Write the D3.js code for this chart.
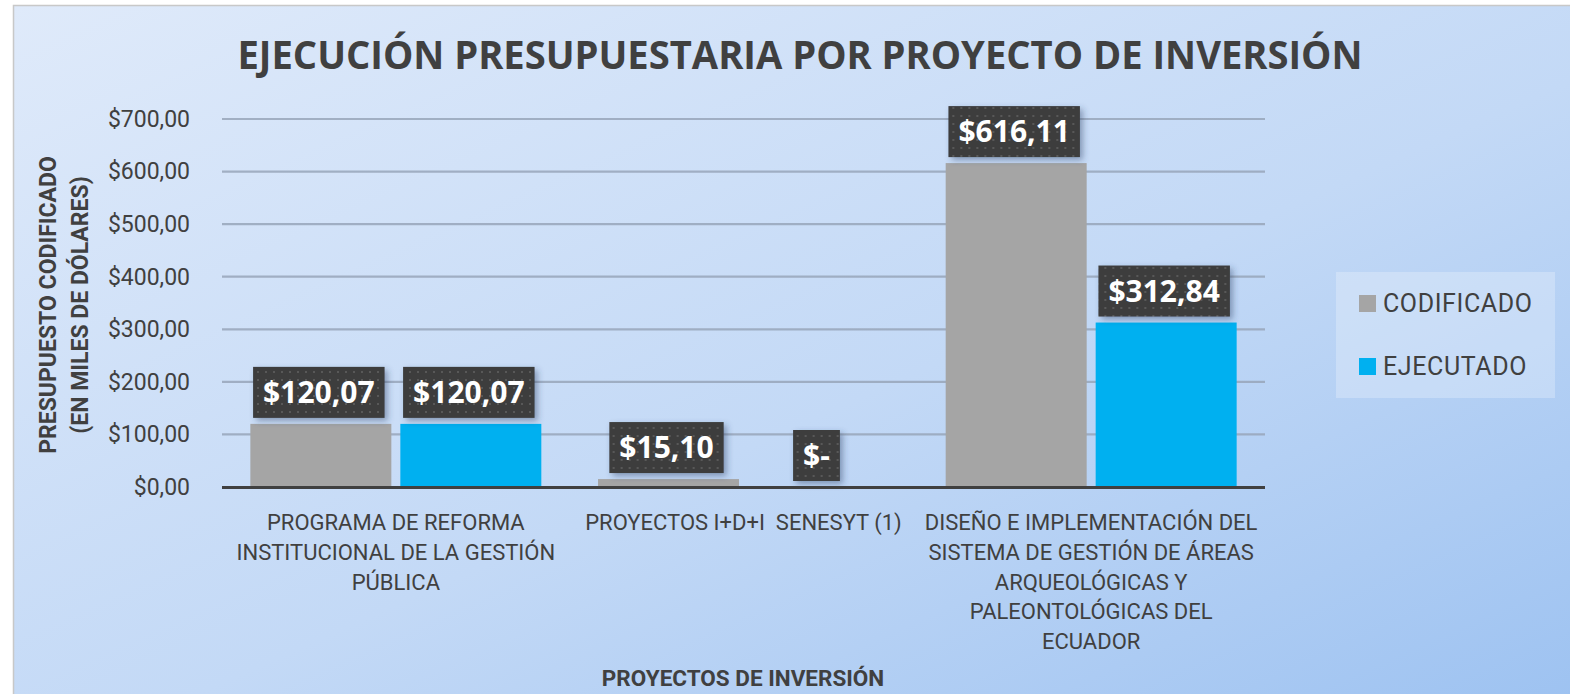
<!DOCTYPE html>
<html>
<head>
<meta charset="utf-8">
<script src="https://cdn.jsdelivr.net/npm/d3@7"></script>
<style>
  body { margin: 0; background: #fff; }
  svg { display: block; }
  text { font-family: "Roboto", sans-serif; fill: #404040; }
</style>
</head>
<body>
<svg id="chart" width="1570" height="694"></svg>
<script>
// Chart values
var categories = ['G1', 'G2', 'G3'];
var category_lines = [
    ['PROGRAMA DE REFORMA', 'INSTITUCIONAL DE LA GESTIÓN', 'PÚBLICA'],
    ['PROYECTOS I+D+I  SENESYT (1)'],
    ['DISEÑO E IMPLEMENTACIÓN DEL', 'SISTEMA DE GESTIÓN DE ÁREAS', 'ARQUEOLÓGICAS Y', 'PALEONTOLÓGICAS DEL', 'ECUADOR']
];
var series_names = ['CODIFICADO', 'EJECUTADO'];
var codificado = [120.07, 15.10, 616.11];
var ejecutado = [120.07, 0, 312.84];
var value_labels = [['$120,07', '$120,07'], ['$15,10', '$-'], ['$616,11', '$312,84']];
var y_ticks = [0, 100, 200, 300, 400, 500, 600, 700];

var colors = { CODIFICADO: '#a5a5a5', EJECUTADO: '#00b0f0' };

var svg = d3.select('#chart');
var defs = svg.append('defs');

// Background gradient
var grad = defs.append('linearGradient').attr('id', 'bg')
    .attr('x1', '0%').attr('y1', '0%').attr('x2', '100%').attr('y2', '100%');
grad.append('stop').attr('offset', '0%').attr('stop-color', '#dfeafa');
grad.append('stop').attr('offset', '55%').attr('stop-color', '#c3d9f6');
grad.append('stop').attr('offset', '100%').attr('stop-color', '#9dc2f1');

// Dotted pattern for the data label boxes
var pat = defs.append('pattern').attr('id', 'dots')
    .attr('width', 8).attr('height', 8).attr('patternUnits', 'userSpaceOnUse');
pat.append('rect').attr('width', 8).attr('height', 8).attr('fill', '#3c3c3c');
pat.append('rect').attr('x', 3).attr('y', 3).attr('width', 2).attr('height', 2).attr('fill', '#595959');

var shadow = defs.append('filter').attr('id', 'shadow')
    .attr('x', '-20%').attr('y', '-20%').attr('width', '150%').attr('height', '160%');
shadow.append('feDropShadow').attr('dx', 3).attr('dy', 3).attr('stdDeviation', 3)
    .attr('flood-color', '#2a3f66').attr('flood-opacity', 0.45);

svg.append('rect').attr('x', 13.5).attr('y', 5.5).attr('width', 1570).attr('height', 700)
    .attr('fill', 'url(#bg)').attr('stroke', '#c8c8c8').attr('stroke-width', 1.5);

// Title
svg.append('text').attr('x', 800).attr('y', 69).attr('text-anchor', 'middle')
    .style('font-family', '"Open Sans", sans-serif')
    .style('font-weight', 'bold').style('font-size', '40px')
    .attr('textLength', 1125).attr('lengthAdjust', 'spacingAndGlyphs')
    .text('EJECUCIÓN PRESUPUESTARIA POR PROYECTO DE INVERSIÓN');

var margin = { left: 222, right: 1265, top: 119, bottom: 487 };
var x = d3.scaleBand().domain(categories).range([margin.left, margin.right]).paddingInner(0).paddingOuter(0);
var x1 = d3.scaleBand().domain(series_names).range([0, x.bandwidth()]).paddingInner(0.06).paddingOuter(0.189);
var y = d3.scaleLinear().domain([0, 700]).range([margin.bottom, margin.top]);

// Gridlines
svg.append('g').selectAll('line').data(y_ticks.slice(1)).enter().append('line')
    .attr('x1', margin.left).attr('x2', margin.right)
    .attr('y1', function (d) { return y(d); }).attr('y2', function (d) { return y(d); })
    .attr('stroke', '#98a6ba').attr('stroke-width', 2.2).attr('opacity', 0.85);

// Y axis tick labels
var yAxis = d3.axisLeft(y).tickValues(y_ticks).tickSize(0).tickPadding(32)
    .tickFormat(function (d) { return '$' + d3.format('.2f')(d).replace('.', ','); });
var yg = svg.append('g').attr('transform', 'translate(' + margin.left + ',0)').call(yAxis);
yg.select('.domain').remove();
yg.selectAll('text').style('font-size', '23px').style('font-family', 'Roboto, sans-serif').attr('fill', '#404040');

// Bars
var rows = categories.map(function (c, i) {
    return { cat: c, vals: [
        { s: 'CODIFICADO', v: codificado[i], label: value_labels[i][0] },
        { s: 'EJECUTADO', v: ejecutado[i], label: value_labels[i][1] }
    ] };
});
var groups = svg.append('g').selectAll('g').data(rows).enter().append('g')
    .attr('transform', function (d) { return 'translate(' + x(d.cat) + ',0)'; });
groups.selectAll('rect').data(function (d) { return d.vals; }).enter().append('rect')
    .attr('x', function (d) { return x1(d.s); })
    .attr('width', x1.bandwidth())
    .attr('y', function (d) { return y(d.v); })
    .attr('height', function (d) { return y(0) - y(d.v); })
    .attr('fill', function (d) { return colors[d.s]; });

// X axis line
svg.append('line').attr('x1', margin.left).attr('x2', margin.right)
    .attr('y1', y(0) + 0.5).attr('y2', y(0) + 0.5)
    .attr('stroke', '#404040').attr('stroke-width', 3);

// Data labels
var labels = groups.selectAll('g.lbl').data(function (d) { return d.vals; }).enter().append('g')
    .attr('class', 'lbl');
labels.each(function (d) {
    var g = d3.select(this);
    var cx = x1(d.s) + x1.bandwidth() / 2 - 2;
    var t = g.append('text').attr('x', cx).attr('y', y(d.v) - 21)
        .attr('text-anchor', 'middle')
        .style('font-family', '"Open Sans", sans-serif')
        .style('font-weight', 'bold').style('font-size', '30px')
        .style('fill', '#ffffff')
        .text(d.label);
    var w = t.node().getComputedTextLength();
    g.insert('rect', 'text')
        .attr('x', cx - w / 2 - 10).attr('y', y(d.v) - 57)
        .attr('width', w + 20).attr('height', 51)
        .attr('fill', 'url(#dots)').attr('filter', 'url(#shadow)');
});

// Category labels
var cl = svg.append('g').selectAll('text').data(categories).enter().append('text')
    .attr('text-anchor', 'middle')
    .attr('x', function (d) { return x(d) + x.bandwidth() / 2; })
    .attr('y', 530)
    .style('font-size', '22px')
    .style('white-space', 'pre');
cl.selectAll('tspan').data(function (d, i) { return category_lines[i]; }).enter().append('tspan')
    .attr('x', function () { return d3.select(this.parentNode).attr('x'); })
    .attr('dy', function (d, i) { return i === 0 ? 0 : 29.8; })
    .text(function (d) { return d; });

// Axis titles
svg.append('text').attr('x', 743).attr('y', 686).attr('text-anchor', 'middle')
    .style('font-weight', 'bold').style('font-size', '22.5px')
    .text('PROYECTOS DE INVERSIÓN');
var yt = svg.append('text').attr('transform', 'translate(56,305) rotate(-90)')
    .attr('text-anchor', 'middle').style('font-weight', 'bold').style('font-size', '23px');
yt.append('tspan').attr('x', 0).attr('dy', 0).text('PRESUPUESTO CODIFICADO');
yt.append('tspan').attr('x', 0).attr('dy', 32).text('(EN MILES DE DÓLARES)');

// Legend
var lg = svg.append('g').attr('transform', 'translate(1336,272)');
lg.append('rect').attr('width', 219).attr('height', 126).attr('fill', '#ffffff').attr('opacity', 0.25);
var li = lg.selectAll('g').data(series_names).enter().append('g')
    .attr('transform', function (d, i) { return 'translate(23,' + (23 + i * 63) + ')'; });
li.append('rect').attr('width', 17).attr('height', 17).attr('fill', function (d) { return colors[d]; });
li.append('text').attr('x', 24).attr('y', 17).style('font-size', '25px').style('letter-spacing', '0.6px')
    .text(function (d) { return d; });
</script>
</body>
</html>
